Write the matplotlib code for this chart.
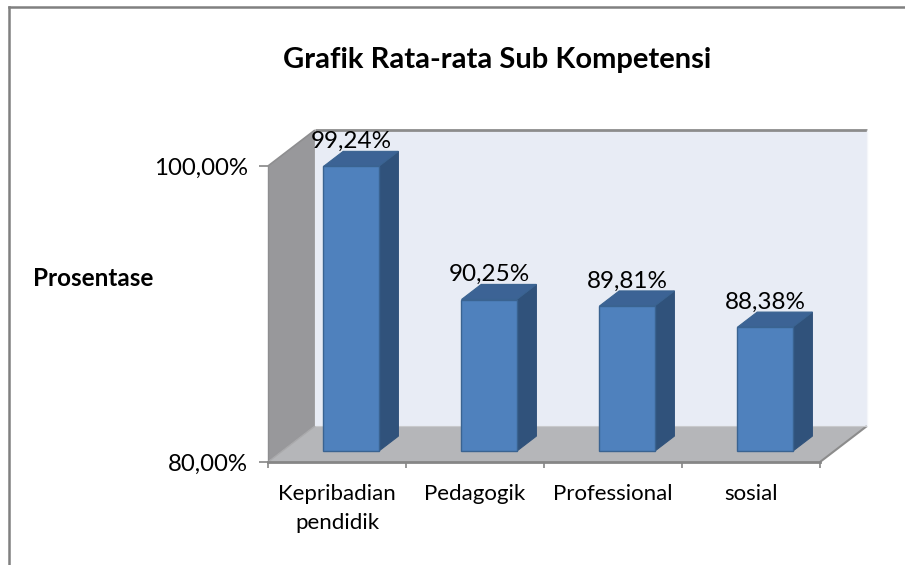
#!/usr/bin/env python3
"""
Grafik Rata-rata Sub Kompetensi: pseudo-3D column chart in the Excel style.
"""

import matplotlib
matplotlib.use("Agg")
import matplotlib.pyplot as plt
from matplotlib.patches import Polygon
from matplotlib.lines import Line2D

CATEGORIES = ["Kepribadian\npendidik", "Pedagogik", "Professional", "sosial"]
VALUES = [99.24, 90.25, 89.81, 88.38]
Y_TICKS = [80, 100]
Y_TICK_LABELS = ["80,00%", "100,00%"]
TITLE = "Grafik Rata-rata Sub Kompetensi"
Y_LABEL = "Prosentase"

FONT = ["Lato", "DejaVu Sans"]

# oblique depth of the plot box, in data units (categories, percent)
DX = 0.34
DY = 2.43
BAR_W = 0.40
BAR_Z0, BAR_Z1 = 0.30, 0.72

C_FRONT = "#4F81BD"
C_SIDE = "#30527B"
C_TOP = "#3C6395"
C_EDGE = "#3A6391"
C_WALL = "#E8ECF5"
C_SIDEWALL = "#98989B"
C_FLOOR = "#B5B6B9"
C_LINE = "#8A8A8A"


def proj(x, y, z):
    return (x + z * DX, y + z * DY)


def face(ax, pts, color, edge=None, lw=0.0, zorder=1):
    poly = Polygon([proj(*p) for p in pts], closed=True, facecolor=color,
                   edgecolor=edge if edge else color, linewidth=lw,
                   clip_on=False, zorder=zorder)
    ax.add_patch(poly)


def main() -> None:
    plt.rcParams["font.family"] = FONT
    fig = plt.figure(figsize=(9.05, 5.65), dpi=100)
    W, H = 905, 565
    ax = fig.add_axes([268 / W, 1 - 462 / H, (820 - 268) / W, (462 - 166) / H])
    n = len(CATEGORIES)
    ymin, ymax = Y_TICKS[0], Y_TICKS[-1]
    ax.set_xlim(0, n)
    ax.set_ylim(ymin, ymax)
    ax.set_facecolor("none")

    # walls and floor
    face(ax, [(0, ymin, 1), (n, ymin, 1), (n, ymax, 1), (0, ymax, 1)], C_WALL, zorder=1)
    face(ax, [(0, ymin, 0), (0, ymin, 1), (0, ymax, 1), (0, ymax, 0)], C_SIDEWALL, zorder=1)
    face(ax, [(0, ymin, 0), (n, ymin, 0), (n, ymin, 1), (0, ymin, 1)], C_FLOOR, zorder=2)

    def line(p, q, color=C_LINE, lw=1.5, zorder=3):
        a, b = proj(*p), proj(*q)
        ax.add_line(Line2D([a[0], b[0]], [a[1], b[1]], color=color, lw=lw,
                           clip_on=False, zorder=zorder, solid_capstyle="butt"))

    line((0, ymax, 0), (0, ymax, 1), "#8E8E90", 1.2)
    line((0, ymax, 1), (n, ymax, 1), "#8C8C8C", 2.0)
    line((n, ymin, 0), (n, ymin, 1), "#8C8C8C", 1.5)
    line((0, ymin, 0), (0, ymin, 1), "#A9A9AB", 1.0)
    line((0, ymin, 1), (n, ymin, 1), "#C8C9CC", 0.8)
    line((n, ymin, 1), (n, ymax, 1), "#F4F6FA", 1.0)

    # bars
    for i, v in enumerate(VALUES):
        x0 = i + 0.5 - BAR_W / 2
        x1 = i + 0.5 + BAR_W / 2
        z0, z1 = BAR_Z0, BAR_Z1
        face(ax, [(x1, ymin, z0), (x1, ymin, z1), (x1, v, z1), (x1, v, z0)],
             C_SIDE, C_SIDE, 0.8, zorder=4)
        face(ax, [(x0, v, z0), (x1, v, z0), (x1, v, z1), (x0, v, z1)],
             C_TOP, C_EDGE, 0.8, zorder=4)
        face(ax, [(x0, ymin, z0), (x1, ymin, z0), (x1, v, z0), (x0, v, z0)],
             C_FRONT, C_EDGE, 1.0, zorder=5)
        cx, cy = proj(i + 0.5, v, z1)
        ax.annotate(f"{v:.2f}%".replace(".", ","), xy=(cx - (z1 - z0) * DX, cy),
                    xytext=(0, 7), textcoords="offset points", ha="center",
                    va="center", fontsize=17.5, color="black",
                    annotation_clip=False, zorder=6)

    # axes, ticks
    for s in ["top", "right"]:
        ax.spines[s].set_visible(False)
    ax.spines["bottom"].set_color("#868686")
    ax.spines["bottom"].set_linewidth(2.0)
    ax.spines["bottom"].set_zorder(3)
    ax.spines["left"].set_color("#8E8E90")
    ax.spines["left"].set_linewidth(1.0)

    ax.set_yticks(Y_TICKS)
    ax.set_yticklabels(Y_TICK_LABELS, fontsize=17.3)
    ax.tick_params(axis="y", length=6.5, width=1.2, color="#868686", pad=8)

    ax.set_xticks([i + 0.5 for i in range(n)])
    ax.set_xticklabels(CATEGORIES, fontsize=16, linespacing=1.55)
    ax.set_xticks(range(n + 1), minor=True)
    ax.tick_params(axis="x", which="major", length=0, pad=16)
    ax.tick_params(axis="x", which="minor", length=4.5, width=1.2, color="#868686")

    fig.text(497 / W, 1 - 60 / H, TITLE, ha="center", va="center",
             fontsize=21, fontweight="bold")
    fig.text(93 / W, 1 - 279 / H, Y_LABEL, ha="center", va="center",
             fontsize=17.5, fontweight="bold")

    # chart frame (only the top and left edges are inside the picture)
    fig.add_artist(Line2D([9 / W, 1], [1 - 7 / H, 1 - 7 / H], color="#808080", lw=1.8))
    fig.add_artist(Line2D([9 / W, 9 / W], [0, 1 - 7 / H], color="#808080", lw=1.8))

    fig.savefig("out.png", dpi=100)
    plt.close(fig)


if __name__ == "__main__":
    main()
